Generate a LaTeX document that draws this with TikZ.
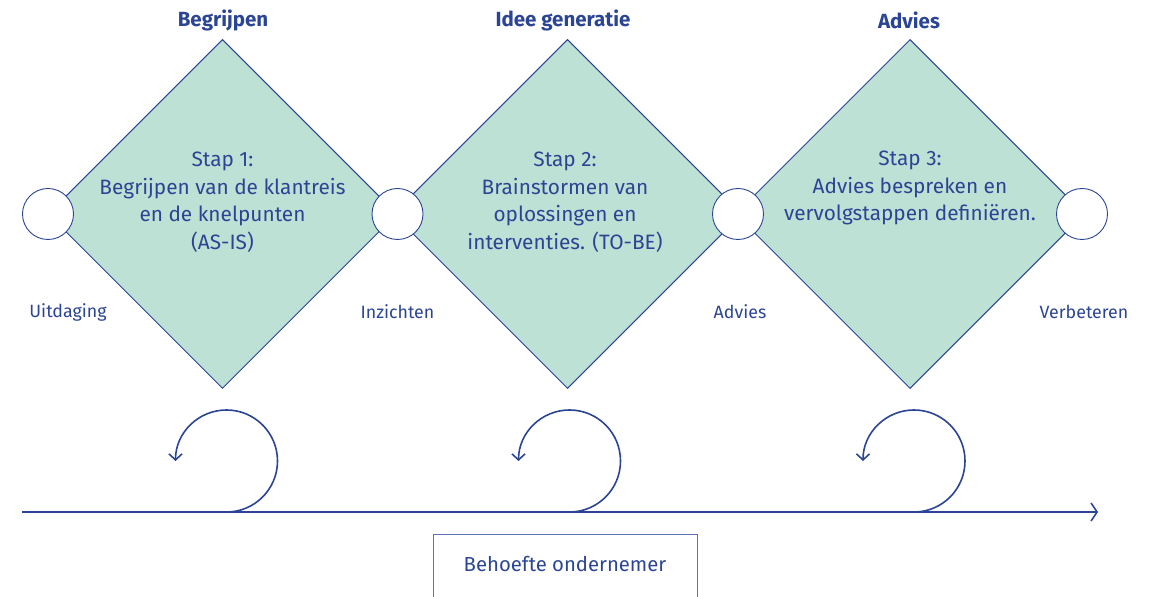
\documentclass[tikz,border=0pt]{standalone}
\usepackage{fontspec}
\setmainfont{Fira Sans}
\usetikzlibrary{shapes.geometric,arrows.meta}

\definecolor{procesblauw}{HTML}{2B4594}
\definecolor{procesgroen}{HTML}{BDE1D4}
\definecolor{kaderblauw}{HTML}{5F74B3}

\tikzset{
  stap/.style={diamond, draw=procesblauw, fill=procesgroen, line width=1pt,
    inner sep=0pt, minimum width=349pt, minimum height=349pt},
  staptekst/.style={text=procesblauw, align=center, font=\fontsize{20.8}{27.5}\selectfont},
  fase/.style={text=procesblauw, font=\fontsize{20.5}{24}\selectfont\bfseries},
  punt/.style={circle, draw=procesblauw, fill=white, line width=0.9pt,
    inner sep=0pt, minimum size=51pt},
  uitkomst/.style={text=procesblauw, font=\fontsize{17.8}{20}\selectfont},
  lus/.style={draw=procesblauw, line width=1.6pt, -{Straight Barb[length=6pt,width=13pt,line width=1.6pt]}},
  tijdlijn/.style={draw=procesblauw, line width=1.6pt, -{Straight Barb[length=6pt,width=18pt,line width=1.6pt]}}
}

\begin{document}
\begin{tikzpicture}[x=1pt, y=1pt]
  \clip (0,0) rectangle (1149,597);
  % fasen
  \node[fase] (f1) at (223,577) {Begrijpen};
  \node[fase] (f2) at (563,577) {Idee generatie};
  \node[fase] (f3) at (909,577) {Advies};

  % diamanten
  \node[stap] (d1) at (222.5,383) {};
  \node[stap] (d2) at (567.5,383) {};
  \node[stap] (d3) at (910,383) {};

  % tussenpunten
  \node[punt] (c1) at (48,383) {};
  \node[punt] (c2) at (397.5,383) {};
  \node[punt] (c3) at (738,383) {};
  \node[punt] (c4) at (1082,383) {};

  % stappen
  \node[staptekst] (s1) at (222.5,395) {Stap 1:\\Begrijpen van de klantreis\\en de knelpunten\\(AS-IS)};
  \node[staptekst] (s2) at (565,395) {Stap 2:\\Brainstormen van\\oplossingen en\\interventies. (TO-BE)};
  \node[staptekst] (s3) at (910,409) {Stap 3:\\Advies bespreken en\\vervolgstappen definiëren.};

  % uitkomsten
  \node[uitkomst] (u1) at (68,285) {Uitdaging};
  \node[uitkomst] (u2) at (397.5,285) {Inzichten};
  \node[uitkomst] (u3) at (740,285) {Advies};
  \node[uitkomst] (u4) at (1084,285) {Verbeteren};

  % tijdlijn met lussen
  \coordinate (start) at (22,85);
  \coordinate (eind) at (1098,85);
  \draw[tijdlijn] (start) -- (eind);
  \coordinate (l1) at (226.5,85);
  \coordinate (l2) at (569.5,85);
  \coordinate (l3) at (914,85);
  \foreach \l in {l1,l2,l3}
    \draw[lus] (\l) arc[start angle=-90, end angle=180, radius=51];

  % behoefte
  \node[draw=kaderblauw, line width=1pt, anchor=north, minimum width=264pt,
    inner ysep=22pt, text depth=40pt, text=procesblauw,
    font=\fontsize{20.3}{24}\selectfont] (b) at (565,63) {Behoefte ondernemer};
\end{tikzpicture}
\end{document}
